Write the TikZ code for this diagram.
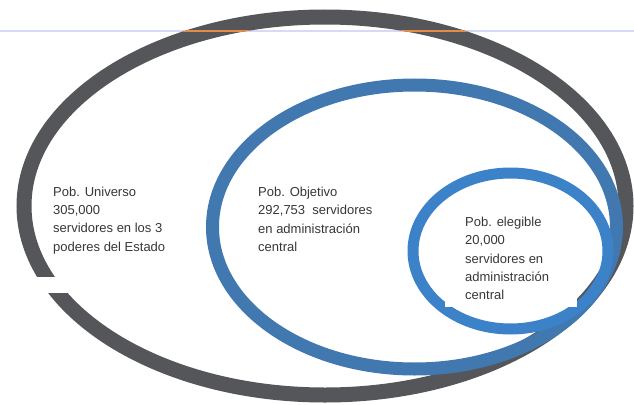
\documentclass[tikz,border=0pt]{standalone}
\usepackage{fontspec}
\setmainfont{Liberation Sans}
\definecolor{ringgray}{RGB}{85,86,90}
\definecolor{ringblue}{RGB}{66,120,176}
\definecolor{ringlight}{RGB}{60,130,200}
\definecolor{scanline}{RGB}{214,218,246}
\definecolor{scanorange}{RGB}{228,140,70}
\definecolor{txtgray}{RGB}{55,55,55}
\begin{document}
\begin{tikzpicture}[x=1pt,y=-1pt,
  pobtext/.style={anchor=north west,inner sep=0pt,align=left,text=txtgray,
    font=\fontsize{13}{18.3}\selectfont}]
\useasboundingbox (0,0) rectangle (634,404);
\fill[white] (0,0) rectangle (634,404);

% thin line across the top
\draw[-,color=scanline,line width=1.2pt] (0,31) -- (634,31);

% outer ring, with the gap on the left
\draw[color=ringgray,line width=15pt] (325,206) ellipse (301 and 189);
\fill[white] (0,277) rectangle (70,293);
\begin{scope}[even odd rule]
\clip (325,206) ellipse (308.5 and 196.5) (325,206) ellipse (293.5 and 181.5);
\draw[-,color=scanorange,line width=1.2pt] (0,31) -- (634,31);
\end{scope}

% inner rings
\draw[color=ringblue,line width=13pt] (414.5,227) ellipse (202 and 142);
\draw[color=ringlight,line width=11pt] (510.5,251) ellipse (97.5 and 78);
\fill[white] (445,215) rectangle (577,307);

\node[pobtext] (universo) at (53,186.5) {Pob. Universo\\305,000\\servidores en los 3\\poderes del Estado};
\node[pobtext] (objetivo) at (258,187) {Pob. Objetivo\\292,753\ \ servidores\\en administración\\central};
\node[pobtext] (elegible) at (465,217) {Pob. elegible\\20,000\\servidores en\\administración\\central};

\end{tikzpicture}
\end{document}
